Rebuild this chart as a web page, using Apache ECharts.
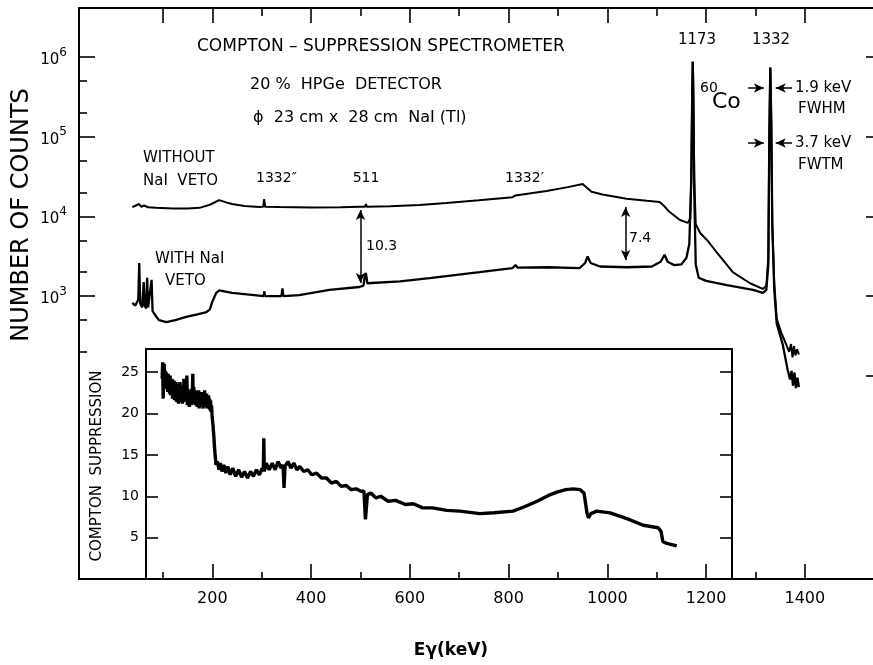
<!DOCTYPE html>
<html><head><meta charset="utf-8">
<script src="https://cdn.jsdelivr.net/npm/echarts@6/dist/echarts.min.js"></script>
<style>html,body{margin:0;padding:0;background:#fff}#c{width:873px;height:665px}</style>
</head><body><div id="c"></div>
<script>
// ---- Data (energy in keV) ----
const energyWithout = [38,44,48,52,56,62,70,86,120,150,174,195,214,228,240,265,295,303,305,307,336,400,460,498,509,511,513,560,620,674,740,808,814,818,877,920,950,958,968,990,1039,1080,1106,1115,1125,1147,1163,1168,1170,1172,1173,1174,1176,1179,1188,1205,1222,1254,1289,1315,1322,1326,1328,1330,1332,1334,1338,1343,1352,1363,1368,1372,1375,1378,1381,1384,1388];
const countsWithout = [13100,13600,13000,14300,13200,13700,13000,12800,12600,12600,12800,14000,16000,15000,14300,13500,13100,13200,16500,13200,13100,12900,13000,13200,13200,14300,13200,13400,13900,14700,15900,17400,18300,17500,20800,23300,25500,23000,20400,18800,16600,15700,15200,13500,11500,9000,8300,9500,30000,400000,870000,400000,30000,8000,6200,4800,3500,2000,1450,1230,1350,3000,100000,740000,150000,8000,1500,520,350,240,200,250,170,235,180,215,185];

const energyWith = [38,44,50,52,54,58,61,63,66,68,70,74,77,79,84,92,107,125,147,170,188,195,200,208,214,240,270,304,305,307,340,342,344,376,437,498,506,509,511,514,518,580,640,741,808,814,818,880,944,955,960,966,985,1040,1090,1108,1116,1122,1135,1150,1160,1166,1170,1172,1173,1174,1176,1179,1185,1200,1242,1295,1315,1322,1326,1328,1330,1332,1334,1338,1343,1355,1365,1370,1373,1376,1379,1382,1385,1388];
const countsWith = [820,760,900,2600,800,720,1500,760,700,1700,720,680,1600,650,580,500,470,500,550,590,630,680,850,1100,1180,1100,1050,1000,1150,1000,1000,1250,1000,1030,1200,1300,1350,1800,1950,1450,1380,1530,1680,2000,2250,2450,2280,2300,2250,2600,3150,2600,2350,2300,2350,2700,3300,2700,2450,2500,3000,4500,30000,400000,870000,400000,20000,2500,1700,1550,1370,1200,1100,1200,2500,100000,740000,150000,8000,1200,450,250,120,90,115,75,110,70,95,72];

const energyRatio = [97,98,99,100,101,102,103,104,105,106,107,108,109,110,111,112,113,114,115,116,117,118,119,120,121,122,123,124,125,126,127,128,129,130,131,132,133,134,135,136,137,138,139,140,141,142,143,144,145,146,147,148,149,150,151,152,153,154,155,156,157,158,159,160,161,162,163,164,165,166,167,168,169,170,171,172,173,174,175,176,177,178,179,180,181,182,183,184,185,186,187,188,189,190,191,192,193,194,195,196,197,198,199,200,201,202,203,204,205,206,207,
  209,212,215,218,222,226,230,235,240,246,252,258,264,270,276,282,288,294,300,302,303,304,308,314,320,326,332,338,342,344,346,352,358,364,370,376,384,392,400,410,420,430,440,450,460,470,480,490,500,506,509,511,513,520,530,540,555,570,590,606,625,645,674,700,741,770,808,830,857,880,897,915,930,944,952,958,961,966,978,1005,1039,1072,1102,1108,1112,1120,1140];
const suppressionRatio = [24.2,26.2,21.8,25.4,26.0,23.6,25.2,23.2,25.0,23.0,24.6,22.6,24.8,22.8,24.4,22.4,24.6,22.2,24.0,22.6,24.2,21.8,23.8,22.2,24.0,21.6,23.6,22.0,23.8,21.4,23.4,21.8,23.6,21.2,23.2,22.0,23.8,21.4,23.0,21.8,23.4,21.2,22.8,21.6,24.2,21.4,23.0,21.8,23.2,21.6,24.6,21.0,23.0,21.4,22.8,20.8,22.6,21.2,22.8,21.0,23.0,21.4,24.8,21.2,23.2,21.4,22.6,21.0,22.8,21.2,22.4,20.8,22.6,21.0,22.8,20.6,22.4,21.0,22.2,20.8,22.6,21.0,22.2,20.6,22.4,21.0,22.8,20.8,22.2,21.0,22.4,20.6,22.0,20.8,22.2,20.6,21.8,20.4,21.6,20.2,21.0,19.8,19.6,18.6,17.8,17.0,16.0,15.2,14.6,13.8,13.6,
  14.2,13.2,14.0,13.0,13.8,12.8,13.6,12.6,13.4,12.4,13.2,12.3,13.0,12.2,13.0,12.4,13.2,12.6,13.4,13.0,17.0,13.0,14.0,13.2,14.0,13.2,14.2,13.4,13.8,11.0,13.6,14.2,13.4,14.0,13.2,13.6,13.0,13.2,12.6,12.8,12.2,12.2,11.6,11.8,11.2,11.3,10.8,10.9,10.6,10.6,7.2,7.0,10.2,10.4,9.8,10.0,9.4,9.5,9.0,9.1,8.6,8.6,8.3,8.2,7.9,8.0,8.2,8.7,9.4,10.1,10.5,10.8,10.9,10.8,10.4,8.0,7.4,7.9,8.2,8.0,7.3,6.5,6.2,5.8,4.5,4.3,4.0];

// ---- Tick values ----
const xMajorTicks = [200,400,600,800,1000,1200,1400];
const xTopMajorTicks = [100,200,400,600,800,1000,1200,1400];
const xMinorTicks = [100,300,500,700,900,1100,1300];
const xTopMinorTicks = [300,500,700,900,1100,1300];
const yDecadeTicks = [1e3,1e4,1e5,1e6];
const yRightDecadeTicks = [1e2,1e3,1e4,1e5,1e6];
const yMinorTicks = [200,500,2000,5000,2e4,5e4,2e5,5e5];
const ratioTicks = [5,10,15,20,25];

// ---- Annotation anchors (data coordinates) ----
const ratio511 = {energy: 500, top: 12000, bottom: 1460};
const ratio1040 = {energy: 1037, top: 13100, bottom: 2840};
const fwhmLevel = 408000, fwtmLevel = 83400;

const F = 'DejaVu Sans';
const BLACK = '#000';
const zip = (a, b) => a.map((v, i) => [v, b[i]]);

const X_MIN = -70, X_MAX = 1538;
const Y_MIN = 0.282, Y_MAX = 4.12e6;
const INSET_X_MIN = 64.2, INSET_X_MAX = 1252;

const axisLineStyle = {show: true, onZero: false, lineStyle: {color: BLACK, width: 2}};
const noLine = {show: false, onZero: false};
const noLabel = {show: false};
const noTick = {show: false};

function ticks(values, len) {
  return {show: true, inside: true, length: len, customValues: values, lineStyle: {color: BLACK, width: 1.6}};
}

const chart = echarts.init(document.getElementById('c'), null, {renderer: 'canvas'});

function txt(text, x, y, size, align, extra) {
  return Object.assign({
    type: 'text', x: x, y: y, z: 100,
    style: {text: text, fontSize: size, fontFamily: F, fill: BLACK,
            align: align || 'left', verticalAlign: 'middle'}
  }, extra || {});
}

const option = {
  animation: false,
  backgroundColor: '#fff',
  grid: [
    {left: 79, top: 8, right: 0, height: 571},
    {left: 79, top: 8, right: 0, height: 571},
    {left: 146, top: 349, width: 586, height: 230}
  ],
  xAxis: [
    {type: 'value', gridIndex: 0, position: 'bottom', min: X_MIN, max: X_MAX,
     axisLine: axisLineStyle, axisTick: ticks(xMajorTicks, 15), splitLine: {show: false},
     axisLabel: {show: true, customValues: xMajorTicks, fontSize: 16, fontFamily: F, color: BLACK, margin: 12,
       formatter: function (v) { return String(v); }}},
    {type: 'value', gridIndex: 0, position: 'top', min: X_MIN, max: X_MAX,
     axisLine: axisLineStyle, axisTick: ticks(xTopMajorTicks, 15), splitLine: {show: false}, axisLabel: noLabel},
    {type: 'value', gridIndex: 1, position: 'bottom', min: X_MIN, max: X_MAX,
     axisLine: noLine, axisTick: ticks(xMinorTicks, 7), splitLine: {show: false}, axisLabel: noLabel},
    {type: 'value', gridIndex: 1, position: 'top', min: X_MIN, max: X_MAX,
     axisLine: noLine, axisTick: ticks(xTopMinorTicks, 8), splitLine: {show: false}, axisLabel: noLabel},
    {type: 'value', gridIndex: 2, position: 'bottom', min: INSET_X_MIN, max: INSET_X_MAX,
     axisLine: noLine, axisTick: noTick, splitLine: {show: false}, axisLabel: noLabel},
    {type: 'value', gridIndex: 2, position: 'top', min: INSET_X_MIN, max: INSET_X_MAX,
     axisLine: axisLineStyle, axisTick: noTick, splitLine: {show: false}, axisLabel: noLabel}
  ],
  yAxis: [
    {type: 'log', gridIndex: 0, position: 'left', min: Y_MIN, max: Y_MAX, logBase: 10,
     axisLine: axisLineStyle, axisTick: ticks(yDecadeTicks, 16), splitLine: {show: false},
     axisLabel: {show: true, customValues: yDecadeTicks, margin: 12, color: BLACK,
       formatter: function (v) { return '{b|10}{e|' + Math.round(Math.log10(v)) + '}'; },
       rich: {b: {fontSize: 15, fontFamily: F, color: BLACK, padding: [6, 0, 0, 0]},
              e: {fontSize: 12, fontFamily: F, color: BLACK, padding: [0, 0, 9, 0]}}}},
    {type: 'log', gridIndex: 0, position: 'right', min: Y_MIN, max: Y_MAX, logBase: 10,
     axisLine: noLine, axisTick: ticks(yRightDecadeTicks, 7), splitLine: {show: false}, axisLabel: noLabel},
    {type: 'log', gridIndex: 1, position: 'left', min: Y_MIN, max: Y_MAX, logBase: 10,
     axisLine: noLine, axisTick: ticks(yMinorTicks, 8), splitLine: {show: false}, axisLabel: noLabel},
    {type: 'value', gridIndex: 2, position: 'left', min: 0, max: 27.8,
     axisLine: axisLineStyle, axisTick: ticks(ratioTicks, 12), splitLine: {show: false},
     axisLabel: {show: true, customValues: ratioTicks, fontSize: 14, fontFamily: F, color: BLACK, margin: 7}},
    {type: 'value', gridIndex: 2, position: 'right', min: 0, max: 27.8,
     axisLine: axisLineStyle, axisTick: ticks(ratioTicks, 12), splitLine: {show: false}, axisLabel: noLabel}
  ],
  series: [
    {type: 'line', name: 'without veto', xAxisIndex: 0, yAxisIndex: 0,
     data: zip(energyWithout, countsWithout), showSymbol: false, symbol: 'none',
     lineStyle: {color: BLACK, width: 2}, z: 5,
     markLine: {silent: true, symbol: ['arrow', 'arrow'], symbolSize: [7, 10],
       label: {show: false}, lineStyle: {color: BLACK, width: 1.5, type: 'solid'},
       data: [
         [{coord: [ratio511.energy, ratio511.top]}, {coord: [ratio511.energy, ratio511.bottom]}],
         [{coord: [ratio1040.energy, ratio1040.top]}, {coord: [ratio1040.energy, ratio1040.bottom]}],
         [{coord: [1285, fwhmLevel], symbol: 'none'}, {coord: [1317, fwhmLevel], symbol: 'arrow'}],
         [{coord: [1374, fwhmLevel], symbol: 'none'}, {coord: [1341, fwhmLevel], symbol: 'arrow'}],
         [{coord: [1285, fwtmLevel], symbol: 'none'}, {coord: [1317, fwtmLevel], symbol: 'arrow'}],
         [{coord: [1374, fwtmLevel], symbol: 'none'}, {coord: [1341, fwtmLevel], symbol: 'arrow'}]
       ]}},
    {type: 'line', name: 'with veto', xAxisIndex: 0, yAxisIndex: 0,
     data: zip(energyWith, countsWith), showSymbol: false, symbol: 'none',
     lineStyle: {color: BLACK, width: 2.3}, z: 5},
    {type: 'line', name: 'suppression', xAxisIndex: 4, yAxisIndex: 3,
     data: zip(energyRatio, suppressionRatio), showSymbol: false, symbol: 'none',
     lineStyle: {color: BLACK, width: 3.4}, z: 5}
  ],
  graphic: [
    txt('COMPTON – SUPPRESSION SPECTROMETER', 197, 47, 17),
    txt('20 %  HPGe  DETECTOR', 250, 85, 16),
    txt('ϕ  23 cm x  28 cm  NaI (Tl)', 253, 118, 16),
    txt('WITHOUT', 143, 158, 15),
    txt('NaI  VETO', 143, 181, 15),
    txt('1332″', 256, 178, 14),
    txt('511', 366, 178, 14, 'center'),
    txt('1332′', 505, 178, 14),
    txt('10.3', 366, 246, 14),
    txt('7.4', 629, 238, 14),
    txt('WITH NaI', 155, 259, 15),
    txt('VETO', 165, 281, 15),
    txt('1173', 697, 40, 15, 'center'),
    txt('1332', 771, 40, 15, 'center'),
    txt('60', 700, 88, 14),
    txt('Co', 712, 102, 22),
    txt('1.9 keV', 795, 88, 15),
    txt('FWHM', 798, 109, 15),
    txt('3.7 keV', 795, 143, 15),
    txt('FWTM', 798, 165, 15),
    txt('NUMBER OF COUNTS', 22, 215, 24, 'center', {rotation: Math.PI / 2}),
    txt('COMPTON  SUPPRESSION', 97, 466, 15, 'center', {rotation: Math.PI / 2}),
    {type: 'text', x: 451, y: 651, z: 100,
     style: {text: 'Eγ(keV)', fontSize: 17, fontWeight: 'bold', fontFamily: F, fill: BLACK,
             align: 'center', verticalAlign: 'middle'}}
  ]
};
chart.setOption(option);
</script></body></html>
